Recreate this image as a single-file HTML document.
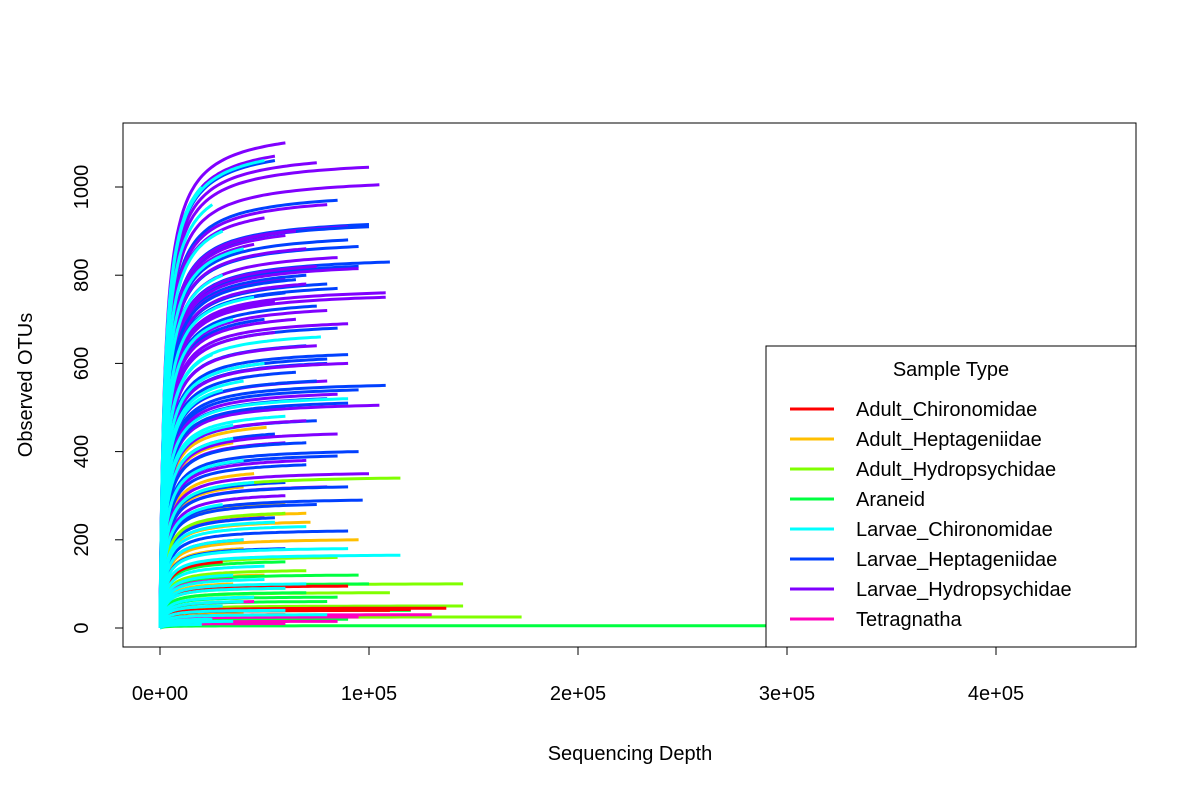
<!DOCTYPE html>
<html><head><meta charset="utf-8"><style>
body{margin:0;background:#fff}
svg text{font-family:"Liberation Sans",Arial,sans-serif;fill:#000}
</style></head><body>
<svg id="chart" width="1200" height="800" viewBox="0 0 1200 800">
<rect width="1200" height="800" fill="#fff"/>
<g id="curves"></g>
<rect x="123" y="123" width="1013" height="524" fill="none" stroke="#000" stroke-width="1"/>
<g id="axes"></g>
<text x="630" y="760" font-size="20" text-anchor="middle">Sequencing Depth</text>
<text transform="translate(32,385) rotate(-90)" font-size="20" text-anchor="middle">Observed OTUs</text>
<g id="legend">
<rect x="766" y="346" width="370" height="301" fill="#fff" stroke="#000" stroke-width="1"/>
<text x="951" y="376" font-size="20" text-anchor="middle">Sample Type</text>
</g>
</svg>
<script>
const groups=["Adult_Chironomidae","Adult_Heptageniidae","Adult_Hydropsychidae","Araneid","Larvae_Chironomidae","Larvae_Heptageniidae","Larvae_Hydropsychidae","Tetragnatha"];
const colors=["#FF0000","#FFBF00","#80FF00","#00FF40","#00FFFF","#0040FF","#8000FF","#FF00BF"];
// sample endpoints: [depth, observed OTUs] per group
const purpleDepth=[60000,55000,75000,100000,105000,80000,50000,90000,60000,70000,85000,95000,60000,108000,108000,80000,65000,55000,75000,90000,80000,105000,70000,85000,60000,70000,100000,80000,60000,50000,40000,45000,70000,90000,65000,75000,55000,85000];
const purpleOTU=[1100,1070,1055,1045,1005,960,930,910,890,860,840,815,790,760,750,720,700,670,640,600,560,505,470,440,420,380,350,320,300,250,200,870,780,690,900,820,740,530];
const blueDepth=[55000,85000,100000,90000,95000,110000,95000,70000,80000,60000,75000,50000,85000,70000,90000,80000,65000,108000,95000,80000,60000,75000,55000,95000,85000,70000,60000,90000,97000,75000,55000,90000,60000,100000,85000,75000,65000,80000,90000,70000];
const blueOTU=[1060,970,915,880,865,830,820,800,780,760,730,700,680,640,620,600,580,550,540,520,500,470,440,400,390,370,330,320,290,280,250,220,180,910,770,560,790,610,510,420];
const cyanDepth=[50000,20000,25000,30000,40000,30000,45000,35000,77000,50000,40000,90000,60000,35000,40000,45000,30000,55000,40000,115000,50000,35000,60000,45000,30000,80000,25000,70000,90000,50000,40000,60000,35000,70000,20000,25000,30000,35000];
const cyanOTU=[1060,1000,960,900,860,800,750,700,660,600,560,520,480,430,380,330,280,240,200,165,140,120,90,70,50,30,20,230,180,110,60,40,15,100,8,620,540,460];
const orangeDepth=[51000,35000,45000,40000,60000,72000,30000,95000,40000,25000,50000,35000,60000,70000,40000];
const orangeOTU=[455,420,350,320,280,240,230,200,180,150,120,100,90,260,35];
const limeDepth=[115000,60000,70000,145000,110000,145000,173000,85000];
const limeOTU=[340,260,130,100,80,50,25,160];
const greenDepth=[95000,40000,80000,120000,90000,290000,60000,70000,100000,85000];
const greenOTU=[120,90,60,40,20,5,150,80,100,70];
const redDepth=[137000,110000,90000,30000,60000,120000];
const redOTU=[45,40,95,150,30,42];
const magentaDepth=[130000,85000,60000,45000,95000,35000];
const magentaOTU=[30,15,10,60,25,110];

const X0=123,X1=1136,Y0=123,Y1=647;
const xs=v=>160+v*(996-160)/400000;
const ys=v=>628-v*(628-187)/1000;
const NS="http://www.w3.org/2000/svg";
const cg=document.getElementById('curves');
function curve(D,S,color,gi){
  const h=2300;
  let pts=[];
  const n=70;
  for(let i=0;i<=n;i++){
    const t=i/n;const x=D*t*t;
    const y=S*(x/(x+h))*((D+h)/D);
    pts.push(xs(x).toFixed(1)+","+ys(y).toFixed(1));
  }
  const p=document.createElementNS(NS,'polyline');
  p.setAttribute('points',pts.join(' '));
  p.setAttribute('fill','none');p.setAttribute('stroke',color);p.setAttribute('stroke-width','3');
  
  
  cg.appendChild(p);
}
for(let i=0;i<orangeDepth.length;i++)curve(orangeDepth[i],orangeOTU[i],colors[1],1);
const m=Math.max(purpleDepth.length,blueDepth.length);
for(let i=0;i<m;i++){
  if(i<purpleDepth.length)curve(purpleDepth[i],purpleOTU[i],colors[6],6);
  if(i<blueDepth.length)curve(blueDepth[i],blueOTU[i],colors[5],5);
}
const rest=[[limeDepth,limeOTU,2],[greenDepth,greenOTU,3],[redDepth,redOTU,0],[magentaDepth,magentaOTU,7],[cyanDepth,cyanOTU,4]];
for(const [d,o,g] of rest){for(let i=0;i<d.length;i++)curve(d[i],o[i],colors[g],g);}

// axes
const ag=document.getElementById('axes');
const xTicks=[0,100000,200000,300000,400000];
const xTickLabels=["0e+00","1e+05","2e+05","3e+05","4e+05"];
const yTicks=[0,200,400,600,800,1000];
let l=document.createElementNS(NS,'line');
l.setAttribute('x1',xs(0));l.setAttribute('x2',xs(400000));l.setAttribute('y1',Y1);l.setAttribute('y2',Y1);l.setAttribute('stroke','#000');


ag.appendChild(l);
xTicks.forEach((v,i)=>{
  const t=document.createElementNS(NS,'line');
  t.setAttribute('x1',xs(v));t.setAttribute('x2',xs(v));t.setAttribute('y1',Y1);t.setAttribute('y2',Y1+8);t.setAttribute('stroke','#000');
  
  
  ag.appendChild(t);
  const tx=document.createElementNS(NS,'text');
  tx.setAttribute('x',xs(v));tx.setAttribute('y',700);tx.setAttribute('font-size','20');tx.setAttribute('text-anchor','middle');
  tx.textContent=xTickLabels[i];
  
  
  ag.appendChild(tx);
});
l=document.createElementNS(NS,'line');
l.setAttribute('x1',X0);l.setAttribute('x2',X0);l.setAttribute('y1',ys(0));l.setAttribute('y2',ys(1000));l.setAttribute('stroke','#000');


ag.appendChild(l);
yTicks.forEach(v=>{
  const t=document.createElementNS(NS,'line');
  t.setAttribute('x1',X0-8);t.setAttribute('x2',X0);t.setAttribute('y1',ys(v));t.setAttribute('y2',ys(v));t.setAttribute('stroke','#000');
  
  
  ag.appendChild(t);
  const tx=document.createElementNS(NS,'text');
  tx.setAttribute('transform','translate(88,'+ys(v)+') rotate(-90)');tx.setAttribute('font-size','20');tx.setAttribute('text-anchor','middle');
  tx.textContent=String(v);
  
  
  ag.appendChild(tx);
});
// legend
const lg=document.getElementById('legend');
groups.forEach((g,i)=>{
  const y=409+i*30;
  const ln=document.createElementNS(NS,'line');
  ln.setAttribute('x1',790);ln.setAttribute('x2',834);ln.setAttribute('y1',y);ln.setAttribute('y2',y);ln.setAttribute('stroke',colors[i]);ln.setAttribute('stroke-width','3');
  
  
  lg.appendChild(ln);
  const tx=document.createElementNS(NS,'text');
  tx.setAttribute('x',856);tx.setAttribute('y',y+7);tx.setAttribute('font-size','20');
  tx.textContent=g;
  
  
  lg.appendChild(tx);
});
</script>
</body></html>
